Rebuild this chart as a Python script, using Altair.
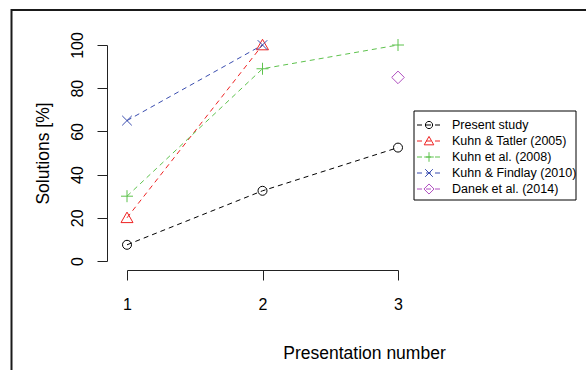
import altair as alt
import pandas as pd

# ---- data ----
studies = ["Present study", "Kuhn & Tatler (2005)", "Kuhn et al. (2008)",
           "Kuhn & Findlay (2010)", "Danek et al. (2014)"]
colors = ["#000000", "#EE2222", "#5DC24C", "#3A4DAF", "#B04FC0"]
shapes = [
    "M-0.75,0A0.75,0.75 0 1 1 0.75,0A0.75,0.75 0 1 1 -0.75,0Z",  # open circle
    "M0,-0.95L1,0.8L-1,0.8Z",                                    # triangle
    "M-1,0L1,0M0,-1L0,1",                                        # plus
    "M-0.8,-0.8L0.8,0.8M-0.8,0.8L0.8,-0.8",                      # cross
    "M0,-1.05L1.05,0L0,1.05L-1.05,0Z",                           # diamond
]
presentation = [1, 2, 3]
present_study = [7.5, 32.5, 52.5]
kuhn_tatler_2005 = [20, 100, None]
kuhn_2008 = [30, 89, 100]
kuhn_findlay_2010 = [65, 100, None]
danek_2014 = [None, None, 85]
x_ticks = [1, 2, 3]
y_ticks = [0, 20, 40, 60, 80, 100]

series = [present_study, kuhn_tatler_2005, kuhn_2008, kuhn_findlay_2010, danek_2014]
rows = []
for name, vals in zip(studies, series):
    for p, v in zip(presentation, vals):
        if v is not None:
            rows.append({"study": name, "presentation": p, "value": v})
df = pd.DataFrame(rows)
leg_df = pd.DataFrame({"study": studies, "row": list(range(len(studies)))})
one = pd.DataFrame({"a": [0]})

FONT = "Liberation Sans"
AX = "#222222"
PL, PT = 127, 45  # plot origin
W, H = 271, 216

color = alt.Color("study:N", scale=alt.Scale(domain=studies, range=colors), legend=None)
shape = alt.Shape("study:N", scale=alt.Scale(domain=studies, range=shapes), legend=None)

x_axis = alt.Axis(tickCount=len(x_ticks) - 1, format="d", offset=9, tickSize=10,
                  grid=False, domainColor=AX, tickColor=AX, labelColor="black",
                  labelFont=FONT, labelFontSize=16, labelPadding=29.5,
                  labelBaseline="alphabetic", labelFlush=False, labelOverlap=False,
                  title="Presentation number", titleFont=FONT, titleFontSize=17.5,
                  titleFontWeight="normal", titleColor="black",
                  titleX=237, titleY=88, titleAlign="center",
                  titleBaseline="alphabetic")
y_axis = alt.Axis(values=y_ticks, offset=20, tickSize=10,
                  grid=False, domainColor=AX, tickColor=AX, labelColor="black",
                  labelFont=FONT, labelFontSize=16, labelAngle=270,
                  labelAlign="center", labelBaseline="alphabetic",
                  labelPadding=15, labelOverlap=False,
                  title="Solutions [%]", titleFont=FONT, titleFontSize=17.5,
                  titleFontWeight="normal", titleColor="black",
                  titleAngle=270, titleAlign="center", titleBaseline="alphabetic",
                  titleX=-59, titleY=108)

x_enc = alt.X("presentation:Q",
              scale=alt.Scale(domain=[x_ticks[0], x_ticks[-1]], nice=False, zero=False),
              axis=x_axis)
y_enc = alt.Y("value:Q", scale=alt.Scale(domain=[0, 100], nice=False), axis=y_axis)

lines = alt.Chart(df).mark_line(strokeDash=[5, 4], strokeWidth=1).encode(
    x=x_enc, y=y_enc, color=color)
points = alt.Chart(df).mark_point(filled=False, size=144, strokeWidth=1, opacity=1).encode(
    x=x_enc, y=y_enc, color=color, shape=shape)
main = alt.layer(lines, points)

# figure border (top and left edges visible)
border_top = alt.Chart(one).mark_rule(color="#1a1a1a", strokeWidth=2).encode(
    x=alt.value(11.5 - PL), x2=alt.value(600 - PL), y=alt.value(10 - PT))
border_left = alt.Chart(one).mark_rule(color="#1a1a1a", strokeWidth=2).encode(
    x=alt.value(11.5 - PL), y=alt.value(9 - PT), y2=alt.value(400 - PT))

# legend
box = alt.Chart(one).mark_rect(fill="white", stroke="black", strokeWidth=1).encode(
    x=alt.value(414 - PL), x2=alt.value(576 - PL),
    y=alt.value(111 - PT), y2=alt.value(200 - PT))
ly = alt.Y("row:Q", scale=alt.Scale(domain=[0, 4], range=[125 - PT, 189 - PT]), axis=None)
leg_rules = alt.Chart(leg_df).mark_rule(strokeDash=[5, 4], strokeWidth=1).encode(
    x=alt.value(417 - PL), x2=alt.value(441 - PL), y=ly, color=color)
leg_pts = alt.Chart(leg_df).mark_point(filled=False, size=92, strokeWidth=1, opacity=1).encode(
    x=alt.value(429 - PL), y=ly, color=color, shape=shape)
leg_txt = alt.Chart(leg_df).mark_text(align="left", baseline="middle", font=FONT,
                                      fontSize=12.5, color="black").encode(
    x=alt.value(452 - PL), y=ly, text="study:N")
legend = alt.layer(leg_rules, leg_pts, leg_txt)

chart = alt.layer(border_top, border_left, main, box, legend).resolve_scale(
    y="independent"
).properties(
    width=W, height=H,
    autosize=alt.AutoSizeParams(type="none"),
    padding={"left": PL, "top": PT, "right": 586 - PL - W, "bottom": 370 - PT - H},
    background="white",
).configure_view(stroke=None)

chart.save("out.html", embed_options={"renderer": "svg", "actions": False})
